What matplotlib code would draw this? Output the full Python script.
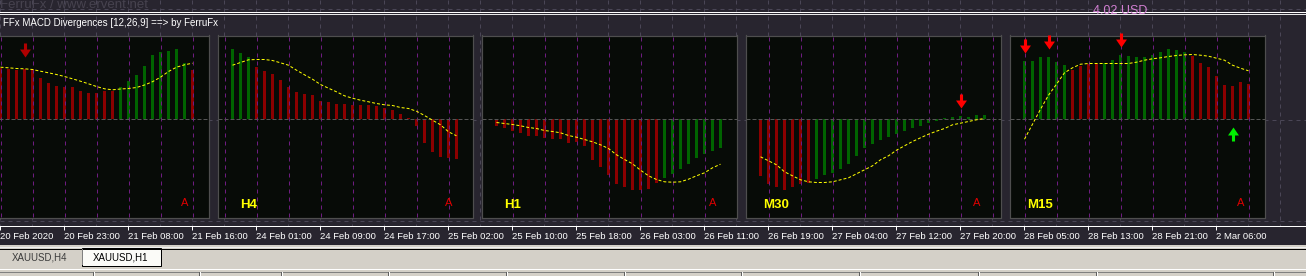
import matplotlib
matplotlib.use('Agg')
import matplotlib.pyplot as plt
from matplotlib.path import Path
from matplotlib.patches import Rectangle
import numpy as np

# ---------------- data ----------------
time_labels = ['20 Feb 2020', '20 Feb 23:00', '21 Feb 08:00', '21 Feb 16:00', '24 Feb 01:00',
               '24 Feb 09:00', '24 Feb 17:00', '25 Feb 02:00', '25 Feb 10:00', '25 Feb 18:00',
               '26 Feb 03:00', '26 Feb 11:00', '26 Feb 19:00', '27 Feb 04:00', '27 Feb 12:00',
               '27 Feb 20:00', '28 Feb 05:00', '28 Feb 13:00', '28 Feb 21:00', '2 Mar 06:00']
label_every = 8          # bars between time labels

panel_names = [None, 'H4', 'H1', 'M30', 'M15']
panel_first_bar = [0, 29, 62, 95, 128]

p1_hist = [51, 50, 49, 50, 50, 41, 36, 33, 32, 32, 28, 26, 26, 28, 28, 32, 38, 44, 53, 64, 67, 68, 70, 56, 49]
p1_col = 'r' * 15 + 'g' * 9 + 'r'
p1_sig = [52.3, 51.7, 51, 50.7, 50, 48.3, 46.7, 45, 43, 40.7, 38.3, 35.7, 33, 30.7, 29.7, 30.5, 31,
          32, 34.5, 37.8, 42.3, 48, 52.3, 54.7, 56.3]

p2_hist = [70.3, 66.3, 62.3, 52.3, 48.3, 45.3, 39.3, 32.3, 27.3, 25.3, 24.3, 18.3, 17.3, 15.3, 15.3,
           14.3, 14.3, 14.3, 13.3, 11.3, 9.3, 5.3, 1.3, -6.7, -23.7, -32.7, -37.7, -38.7, -39.7]
p2_col = 'g' * 3 + 'r' * 26
p2_sig = [54.3, 57, 59.7, 60, 60, 59, 56.7, 54.3, 49.3, 44.7, 40.3, 35, 31.3, 27.7, 23.7, 21.3, 19.3,
          17.7, 16, 14.7, 14, 12, 11, 8.3, 4, -0.7, -5.3, -12.3, -16.3]

p3_hist = [-6.3, -8.3, -11.3, -13.3, -16.3, -16.3, -18.3, -19.3, -19.3, -23.3, -22.3, -26.3, -40.3,
           -47.3, -55.3, -64.3, -67.3, -70.3, -70.3, -69.3, -63.3, -58.3, -54.3, -49.3, -44.3,
           -38.3, -34.3, -31.3, -28.3]
p3_col = 'r' * 21 + 'g' * 8
p3_sig = [-3, -4, -5, -6.3, -8, -9, -11, -12, -13.3, -16, -17.7, -20, -22.3, -25.3, -29, -35.3, -40,
          -44.3, -50.7, -56.3, -60, -62.3, -62.7, -62.3, -59.7, -56.3, -53.3, -48.3, -44.7]

p4_hist = [-56.3, -64.3, -67.3, -70.3, -67.3, -64.3, -63.3, -59.3, -55.3, -53.3, -49.3, -44.3, -36.3,
           -28.3, -24.3, -20.3, -17.3, -14.3, -11.3, -8.3, -6.3, -3.3, -1.3, 1, 2.3, 3.3, 2.3, 4.3, 4.3]
p4_col = 'r' * 7 + 'g' * 22
p4_sig = [-37.3, -41.3, -45.3, -52.3, -56.3, -60.3, -62.3, -63, -63, -62.3, -60.3, -58.3, -54.3,
          -50.3, -46.3, -40.3, -36.3, -30.7, -26.3, -22, -18.3, -14.7, -11.7, -9, -5.3, -3.7, -2,
          -0.3, 1]

p5_hist = [58.3, 58.3, 62.3, 62.3, 57.3, 54.3, 49.3, 53.3, 55.3, 55.3, 56.3, 59.3, 64.3, 63.3, 62.3,
           62.3, 64.3, 67.3, 70.3, 69.3, 67.3, 63.3, 56.3, 52.3, 43.3, 34.3, 33.3, 37.3, 35.3]
p5_col = 'g' * 6 + 'r' * 4 + 'g' * 11 + 'r' * 8
p5_sig = [-19.7, -4.7, 10.3, 24.3, 35.3, 46.7, 51.7, 55.3, 56, 56, 56, 56, 56, 56, 57.3, 59.3, 60.7,
          61.7, 63, 64, 64.7, 65, 64.3, 63.3, 61.3, 59.3, 54.3, 51.3, 48.7]

hists = [p1_hist, p2_hist, p3_hist, p4_hist, p5_hist]
cols = [p1_col, p2_col, p3_col, p4_col, p5_col]
sigs = [p1_sig, p2_sig, p3_sig, p4_sig, p5_sig]

# divergence arrows: (bar index, value, direction)
arrow_bar = [3, 120, 128, 131, 140, 154]
arrow_val = [69.5, 18.8, 73.5, 77.2, 79.6, -14.7]
arrow_dir = ['down', 'down', 'down', 'down', 'down', 'up']

tab_names = ['XAUUSD,H4', 'XAUUSD,H1']

# ---------------- style ----------------
W, H = 1306, 276
PX = 0.72  # one pixel in points
BG = '#28252f'
PANEL_BG = '#070b07'
BORDER = '#4e4e4e'
GRID_OUT = '#4a4656'
GRID_IN = '#6e1c80'
ZERO = '#555555'
RED = '#8b0000'
GREEN = '#006400'
FONT = 'Liberation Sans'

# panel border columns (pixels)
panel_box = [(-47, 208), (217, 472), (481, 736), (745, 1000), (1009, 1264)]
P_TOP, P_BOT, ZERO_ROW = 35.5, 217.5, 119.5

fig = plt.figure(figsize=(W / 100, H / 100), dpi=100, facecolor=BG)


def frac(l, t, r, b):
    return [l / W, 1 - b / H, (r - l) / W, (b - t) / H]


# ---------------- main chart axes (time axis + grid) ----------------
ax = fig.add_axes(frac(0, 0, W, 225.5), zorder=1)
ax.set_facecolor(BG)
ax.set_xlim(0, W / 8)
ax.set_ylim(225.5, 0)
for s in ['top', 'left', 'right']:
    ax.spines[s].set_visible(False)
ax.spines['bottom'].set_color('white')
ax.spines['bottom'].set_linewidth(PX)
ax.set_yticks([])
ticks = np.arange(len(time_labels)) * label_every
ax.set_xticks(ticks)
ax.set_xticklabels(time_labels, ha='left', fontsize=6.8, color='white', family=FONT)
ax.tick_params(axis='x', length=3.2, width=PX, color='white', pad=1.2)
ax.vlines(np.arange(0, W / 8, 4), 0, 225.5, colors=GRID_OUT, linestyles=(0, (4, 4)), lw=PX)
for yy in (8.5, 119.5, 220.5):
    ax.axhline(yy, color=GRID_OUT, lw=PX, ls=(0, (4, 4)))

# ---------------- arrows ----------------
dv = [(-0.11, 0.5), (0.11, 0.5), (0.11, 0.07), (0.39, 0.07), (0.0, -0.5), (-0.39, 0.07),
      (-0.11, 0.07), (-0.11, 0.5)]
codes = [Path.MOVETO] + [Path.LINETO] * 6 + [Path.CLOSEPOLY]
DOWN = Path(dv, codes)
UP = Path([(x, -y) for x, y in dv], codes)

# ---------------- panels ----------------
for i, (Lc, Rc) in enumerate(panel_box):
    a = fig.add_axes(frac(Lc + 0.5, P_TOP, Rc + 0.5, P_BOT), zorder=3)
    a.set_facecolor(PANEL_BG)
    a.set_xlim(Lc / 8, Rc / 8)
    a.set_ylim(ZERO_ROW - P_BOT, ZERO_ROW - P_TOP)
    for sp in a.spines.values():
        sp.set_color(BORDER)
        sp.set_linewidth(PX * 1.2)
    a.set_xticks([])
    a.set_yticks([])
    lo, hi = Lc / 8, Rc / 8
    g = np.arange(np.ceil(lo / 4) * 4, hi, 4)
    a.vlines(g, ZERO_ROW - P_BOT, ZERO_ROW - P_TOP, colors=GRID_IN, linestyles=(0, (4, 4)), lw=PX)
    a.axhline(0, color=ZERO, lw=PX, ls=(0, (4, 2)))
    x = panel_first_bar[i] + np.arange(len(hists[i]))
    c = [GREEN if k == 'g' else RED for k in cols[i]]
    a.bar(x, hists[i], width=0.375, color=c, linewidth=0, antialiased=False)
    a.plot(x, sigs[i], color='#ffff00', lw=PX, ls=(0, (3, 2)))
    # 'A' marker
    a.text(x[-1] - 1, -84, 'A', color='#e00000', fontsize=8, family=FONT,
           ha='center', va='center')
    if panel_names[i]:
        a.text(lo + 31 / 8, -85.5, panel_names[i], color='#ffff00', fontsize=9.5,
               fontweight='bold', family=FONT, ha='center', va='center')
    for b, v, d in zip(arrow_bar, arrow_val, arrow_dir):
        if x[0] <= b <= x[-1]:
            if d == 'up':
                col = '#00ee00'
            elif i == 0:
                col = '#b00000'
            else:
                col = '#ff0000'
            a.plot([b], [v], marker=UP if d == 'up' else DOWN, ms=10.1, color=col,
                   mew=0, clip_on=False, zorder=5)

# ---------------- decorations ----------------
d = fig.add_axes([0, 0, 1, 1], zorder=5)
d.set_xlim(0, W)
d.set_ylim(H, 0)
d.axis('off')
d.patch.set_visible(False)

clip = Rectangle((0, 0), W, 11, transform=d.transData)
t1 = d.text(0, 7.6, 'FerruFx / www.ervent.net', color='#47434f', fontsize=9.5, family=FONT,
            va='baseline', ha='left')
t1.set_clip_path(clip)
t2 = d.text(1093, 14.5, '4.02 USD', color='#d27fd2', fontsize=9, family=FONT,
            va='baseline', ha='left')
t2.set_clip_path(Rectangle((0, 0), W, 11, transform=d.transData))

d.plot([0, W], [11.5, 11.5], color='white', lw=PX)
d.plot([0, W], [13.5, 13.5], color='#e8e8e8', lw=PX)
d.text(3, 22.8, 'FFx MACD Divergences [12,26,9] ==> by FerruFx', color='white', fontsize=7,
       family=FONT, va='center', ha='left')

# tab bar
d.add_patch(Rectangle((0, 245), W, 31, facecolor='#d4d0c8', edgecolor='none'))
d.plot([0, W], [246.5, 246.5], color='#f0f0f0', lw=PX)
d.plot([0, W], [248.5, 248.5], color='black', lw=PX)
d.plot([81.5, 81.5], [249, 264], color='#808080', lw=PX)
d.add_patch(Rectangle((81.5, 247.5), 79, 18.5, facecolor='#fbfbf8', edgecolor='black', lw=PX))
d.text(40, 257, tab_names[0], color='#3c3c3c', fontsize=7, family=FONT, ha='center', va='center')
d.text(120.5, 257, tab_names[1], color='black', fontsize=7, family=FONT, ha='center', va='center')
d.plot([0, W], [268.5, 268.5], color='white', lw=PX)
d.plot([0, W], [271.5, 271.5], color='#808080', lw=PX)
for sx in [92, 198, 280, 387, 505, 623, 740, 858, 977, 1095, 1272]:
    d.plot([sx + 0.5, sx + 0.5], [272, 276], color='#606060', lw=PX)
    d.plot([sx + 1.5, sx + 1.5], [272, 276], color='white', lw=PX)

fig.savefig('out.png', dpi=100, facecolor=BG)
